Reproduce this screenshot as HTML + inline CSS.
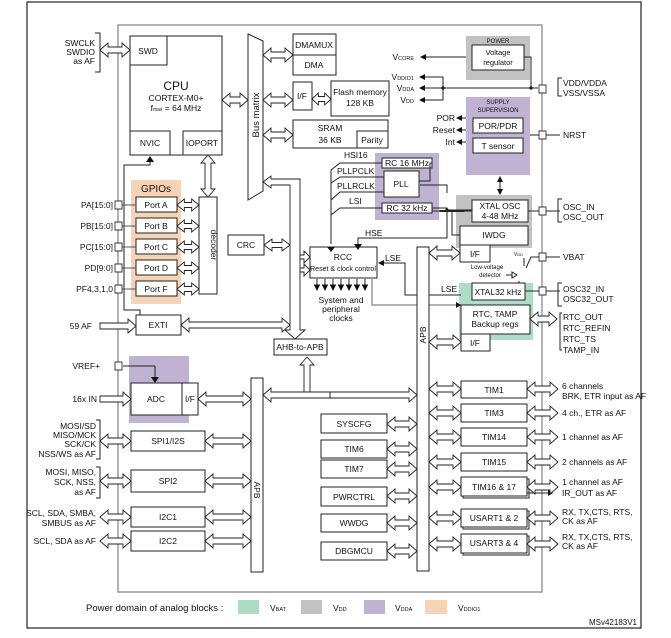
<!DOCTYPE html>
<html><head><meta charset="utf-8"><style>
html,body{margin:0;padding:0;background:#fff}
svg{display:block}
text{font-family:"Liberation Sans",sans-serif;font-size:8.5px;fill:#111}
.b{fill:#fff;stroke:#222;stroke-width:1}
.g{stroke:#999;stroke-width:1.5;fill:none}
.l{stroke:#222;stroke-width:1;fill:none}
.c{text-anchor:middle}
.r{text-anchor:end}
</style></head><body>
<svg id="s" width="671" height="638" viewBox="0 0 671 638" xmlns="http://www.w3.org/2000/svg">
<rect x="27" y="2" width="614" height="626" fill="none" stroke="#222" stroke-width="1.2"/>
<!-- chip frame -->
<rect x="118" y="25" width="424" height="567" class="g"/>
<!-- colored domains -->
<rect x="131" y="180" width="50" height="124" fill="#f7d3b5"/>
<rect x="466" y="36" width="64" height="44" fill="#c2c2c2"/>
<rect x="466" y="97" width="64" height="78" fill="#bfb2d3"/>
<rect x="375" y="153" width="64" height="67" fill="#bfb2d3"/>
<rect x="456" y="195" width="76" height="53" fill="#c2c2c2"/>
<rect x="459" y="283" width="74" height="57" fill="#addcc7"/>
<rect x="129" y="356" width="60" height="67" fill="#bfb2d3"/>
<!-- CPU -->
<rect x="130" y="36" width="92" height="119" class="b"/>
<rect x="130" y="36" width="37" height="29" class="b"/>
<text x="148" y="54" class="c">SWD</text>
<text x="176" y="90" class="c" style="font-size:12px">CPU</text>
<text x="176" y="101" class="c">CORTEX-M0+</text>
<text x="176" y="111" class="c">f<tspan style="font-size:5px">max</tspan> = 64 MHz</text>
<rect x="130" y="131" width="40" height="24" class="b"/><text x="150" y="146" class="c">NVIC</text>
<rect x="183" y="131" width="39" height="24" class="b"/><text x="202" y="146" class="c">IOPORT</text>
<!-- SWCLK -->
<path d="M95 33H100V72H95" class="l"/>
<text x="95" y="46" class="r">SWCLK</text><text x="95" y="55" class="r">SWDIO</text><text x="95" y="64" class="r">as AF</text>
<!-- Bus matrix -->
<path d="M248 34L263 41V191L248 200Z" class="b"/>
<text transform="translate(259,115) rotate(-90)" class="c" style="font-size:9.5px">Bus matrix</text>
<rect x="293" y="34" width="43" height="21" class="b"/><text x="314" y="48" class="c">DMAMUX</text>
<rect x="293" y="55" width="43" height="20" class="b"/><text x="314" y="68" class="c">DMA</text>
<rect x="293" y="82" width="19" height="28" class="b"/><text x="302" y="99" class="c">I/F</text>
<rect x="331" y="81" width="58" height="35" class="b"/><text x="360" y="95" class="c">Flash memory</text><text x="360" y="106" class="c">128 KB</text>
<rect x="293" y="120" width="95" height="28" class="b"/><text x="330" y="131" class="c">SRAM</text><text x="330" y="143" class="c">36 KB</text>
<rect x="357" y="131" width="31" height="17" class="b"/><text x="372" y="143" class="c">Parity</text>
<!-- GPIO -->
<text x="156" y="192" class="c" style="font-size:10px">GPIOs</text>
<g id="ports"></g>
<rect x="136" y="197" width="41" height="15" class="b"/><text x="156" y="208" class="c">Port A</text>
<rect x="136" y="218" width="41" height="15" class="b"/><text x="156" y="229" class="c">Port B</text>
<rect x="136" y="239" width="41" height="15" class="b"/><text x="156" y="250" class="c">Port C</text>
<rect x="136" y="260" width="41" height="15" class="b"/><text x="156" y="271" class="c">Port D</text>
<rect x="136" y="281" width="41" height="15" class="b"/><text x="156" y="292" class="c">Port F</text>
<text x="113" y="208" class="r">PA[15:0]</text><text x="113" y="229" class="r">PB[15:0]</text><text x="113" y="250" class="r">PC[15:0]</text><text x="113" y="271" class="r">PD[9:0]</text><text x="113" y="292" class="r">PF4,3,1,0</text>
<rect x="199" y="197" width="18" height="97" class="b"/>
<text transform="translate(211,245) rotate(90)" class="c">decoder</text>
<rect x="228" y="235" width="36" height="20" class="b"/><text x="246" y="248" class="c">CRC</text>
<!-- NVIC line -->
<path d="M150 160V165H124V310H140V315" class="l"/>
<path d="M146 162L150 156L154 162Z" fill="#111"/>
<!-- EXTI -->
<rect x="136" y="315" width="45" height="20" class="b"/><text x="158" y="328" class="c">EXTI</text>
<text x="92" y="329" class="r">59 AF</text>
<!-- AHB -->
<text transform="translate(296,296) rotate(-90)" class="c">AHB</text>
<rect x="274" y="339" width="53" height="16" class="b"/><text x="300" y="350" class="c">AHB-to-APB</text>
<!-- RCC -->
<rect x="310" y="247" width="67" height="31" class="b"/>
<text x="343" y="260" class="c">RCC</text><text x="343" y="271" class="c" style="font-size:7px">Reset &amp; clock control</text>
<g id="clk"></g>
<text x="341" y="303" class="c">System and</text><text x="341" y="312" class="c">peripheral</text><text x="341" y="321" class="c">clocks</text>
<!-- PLL -->
<rect x="382" y="158" width="50" height="10" class="b"/><text x="407" y="166" class="c">RC 16 MHz</text>
<rect x="384" y="171" width="35" height="26" class="b"/><text x="401" y="187" class="c">PLL</text>
<rect x="382" y="203" width="50" height="10" class="b"/><text x="407" y="211" class="c">RC 32 kHz</text>
<text x="344" y="158">HSI16</text><text x="337" y="174">PLLPCLK</text><text x="337" y="189">PLLRCLK</text><text x="349" y="204">LSI</text>
<path d="M382 163H340L331 170V244M384 177H340L331 183M384 192H340L331 200M382 208H340L331 215" class="l"/>
<path d="M327 247L331 252L335 247Z" fill="#111"/>
<path d="M419 181H430V163H432M432 208H447V238H358V247M447 210H472M447 193V185H420M452 210V235H460" class="l"/>
<circle cx="447" cy="210" r="1.6" fill="#111"/>
<path d="M354 244L358 250L362 244Z" fill="#111"/><text x="365" y="236">HSE</text>
<!-- LSE -->
<path d="M379 263H405V295H461" class="l"/><path d="M384 260L378 263L384 266Z" fill="#111"/>
<text x="385" y="261">LSE</text><text x="441" y="292">LSE</text>
<path d="M372 278V305H461" class="g"/><path d="M456 302L461 305L456 308Z" fill="#111"/>
<!-- right power -->
<rect x="472" y="45" width="52" height="25" class="b"/><text x="498" y="55" class="c" style="font-size:7.5px">Voltage</text><text x="498" y="65" class="c" style="font-size:7.5px">regulator</text>
<text x="498" y="43" class="c" style="font-size:6px">POWER</text>
<text x="414" y="60" class="r">V<tspan style="font-size:5.5px">CORE</tspan></text>
<path d="M425 57H466" class="l"/><path d="M426 54L420 57L426 60Z" fill="#111"/>
<text x="414" y="80" class="r">V<tspan style="font-size:5.5px">DDIO1</tspan></text>
<text x="414" y="91" class="r">V<tspan style="font-size:5.5px">DDA</tspan></text>
<text x="414" y="103" class="r">V<tspan style="font-size:5.5px">DD</tspan></text>
<path d="M424 77H443V100H424M424 88H538M524 57H531V88" class="l"/>
<path d="M425 74L419 77L425 80ZM425 85L419 88L425 91ZM425 97L419 100L425 103Z" fill="#111"/>
<circle cx="443" cy="88" r="1.6" fill="#111"/><circle cx="531" cy="88" r="1.6" fill="#111"/>
<path d="M562 78H558V96H562" class="l"/><text x="563" y="86">VDD/VDDA</text><text x="563" y="96">VSS/VSSA</text>
<text x="498" y="104" class="c" style="font-size:6px">SUPPLY</text><text x="498" y="112" class="c" style="font-size:6px">SUPERVISION</text>
<rect x="473" y="118" width="50" height="15" class="b"/><text x="498" y="129" class="c">POR/PDR</text>
<rect x="473" y="138" width="50" height="15" class="b"/><text x="498" y="149" class="c">T sensor</text>
<text x="455" y="121" class="r">POR</text><text x="455" y="133" class="r">Reset</text><text x="455" y="145" class="r">Int</text>
<path d="M459 118H466M459 130H466M459 142H466" class="l"/>
<path d="M462 115L456 118L462 121ZM462 127L456 130L462 133ZM462 139L456 142L462 145Z" fill="#111"/>
<path d="M530 135H560" class="l"/><text x="563" y="138">NRST</text>
<path d="M500 180V191" class="l"/><path d="M497 182L500 176L503 182ZM497 189L500 195L503 189Z" fill="#111"/>
<rect x="472" y="200" width="56" height="22" class="b"/><text x="500" y="209" class="c">XTAL OSC</text><text x="500" y="219" class="c">4-48 MHz</text>
<rect x="460" y="226" width="68" height="19" class="b"/><text x="494" y="238" class="c">IWDG</text>
<rect x="460" y="245" width="30" height="17" class="b"/><text x="475" y="257" class="c">I/F</text>
<path d="M528 211H560M562 199H558V222H562" class="l"/><text x="563" y="210">OSC_IN</text><text x="563" y="220">OSC_OUT</text>
<path d="M524 258V266M519 281V291M526 268L531 257H560" class="l"/>
<text x="523" y="256" class="r" style="font-size:5px">V<tspan style="font-size:4px">DD</tspan></text>
<text x="487" y="269" class="c" style="font-size:6px">Low-voltage</text><text x="490" y="277" class="c" style="font-size:6px">detector</text>
<path d="M506 275H512M512 272L517 275L512 278Z" class="l"/>
<text x="563" y="260">VBAT</text>
<rect x="472" y="283" width="53" height="17" class="b"/><text x="498" y="295" class="c">XTAL32 kHz</text>
<path d="M525 291H560M562 283H558V306H562" class="l"/><text x="563" y="292">OSC32_IN</text><text x="563" y="302">OSC32_OUT</text>
<rect x="461" y="305" width="69" height="29" class="b"/><text x="495" y="317" class="c">RTC, TAMP</text><text x="495" y="327" class="c">Backup regs</text>
<rect x="461" y="334" width="29" height="17" class="b"/><text x="475" y="346" class="c">I/F</text>
<path d="M562 313H560V350H562" class="l"/>
<text x="563" y="320">RTC_OUT</text><text x="563" y="331">RTC_REFIN</text><text x="563" y="342">RTC_TS</text><text x="563" y="353">TAMP_IN</text>
<!-- APB bars -->
<rect x="417" y="247" width="12" height="324" class="b"/>
<text transform="translate(426,335) rotate(-90)" class="c">APB</text>
<rect x="251" y="378" width="12" height="194" class="b"/>
<text transform="translate(254,490) rotate(90)" class="c">APB</text>
<!-- middle column -->
<rect x="321" y="414" width="66" height="19" class="b"/><text x="354" y="427" class="c">SYSCFG</text>
<rect x="321" y="440" width="66" height="18" class="b"/><text x="354" y="452" class="c">TIM6</text>
<rect x="321" y="460" width="66" height="18" class="b"/><text x="354" y="472" class="c">TIM7</text>
<rect x="321" y="487" width="66" height="19" class="b"/><text x="354" y="500" class="c">PWRCTRL</text>
<rect x="321" y="514" width="66" height="18" class="b"/><text x="354" y="526" class="c">WWDG</text>
<rect x="321" y="542" width="66" height="18" class="b"/><text x="354" y="554" class="c">DBGMCU</text>
<!-- right column -->
<rect x="461" y="381" width="66" height="17" class="b"/><text x="494" y="393" class="c">TIM1</text>
<rect x="461" y="404" width="66" height="18" class="b"/><text x="494" y="416" class="c">TIM3</text>
<rect x="461" y="428" width="66" height="18" class="b"/><text x="494" y="440" class="c">TIM14</text>
<rect x="461" y="453" width="66" height="18" class="b"/><text x="494" y="465" class="c">TIM15</text>
<rect x="463" y="479" width="66" height="19" class="b"/><rect x="461" y="477" width="66" height="19" class="b"/><text x="494" y="490" class="c">TIM16 &amp; 17</text>
<rect x="463" y="511" width="66" height="18" class="b"/><rect x="461" y="509" width="66" height="18" class="b"/><text x="494" y="521" class="c">USART1 &amp; 2</text>
<rect x="463" y="536" width="66" height="19" class="b"/><rect x="461" y="534" width="66" height="19" class="b"/><text x="494" y="546" class="c">USART3 &amp; 4</text>
<text x="562" y="389">6 channels</text><text x="562" y="399">BRK, ETR input as AF</text>
<text x="562" y="416">4 ch., ETR as AF</text>
<text x="562" y="440">1 channel as AF</text>
<text x="562" y="465">2 channels as AF</text>
<text x="562" y="485">1 channel as AF</text>
<path d="M527 493H548" class="l"/><path d="M548 490L553 493L548 496Z" fill="#111"/><text x="562" y="496">IR_OUT as AF</text>
<text x="562" y="515">RX, TX,CTS, RTS,</text><text x="562" y="524">CK as AF</text>
<text x="562" y="540">RX, TX,CTS, RTS,</text><text x="562" y="549">CK as AF</text>
<!-- left periph -->
<path d="M155 366H123M155 366V378" class="l"/><path d="M151 377L155 383L159 377Z" fill="#111"/>
<text x="100" y="369" class="r">VREF+</text>
<rect x="131" y="383" width="51" height="32" class="b"/><text x="156" y="402" class="c">ADC</text>
<rect x="182" y="383" width="16" height="32" class="b"/><text x="190" y="402" class="c">I/F</text>
<text x="97" y="402" class="r">16x IN</text>
<rect x="131" y="431" width="74" height="20" class="b"/><text x="168" y="444" class="c">SPI1/I2S</text>
<rect x="131" y="470" width="74" height="22" class="b"/><text x="168" y="484" class="c">SPI2</text>
<rect x="131" y="507" width="74" height="20" class="b"/><text x="168" y="520" class="c">I2C1</text>
<rect x="131" y="531" width="74" height="20" class="b"/><text x="168" y="544" class="c">I2C2</text>
<path d="M96 420H100V459H96M96 467H100V498H96" class="l"/>
<text x="96" y="429" class="r">MOSI/SD</text><text x="96" y="438" class="r">MISO/MCK</text><text x="96" y="447" class="r">SCK/CK</text><text x="96" y="457" class="r">NSS/WS as AF</text>
<text x="96" y="475" class="r">MOSI, MISO,</text><text x="96" y="485" class="r">SCK, NSS,</text><text x="96" y="495" class="r">as AF</text>
<text x="96" y="516" class="r">SCL, SDA, SMBA,</text><text x="96" y="526" class="r">SMBUS as AF</text>
<text x="96" y="544" class="r">SCL, SDA as AF</text>
<g id="arr"></g>
<!-- legend -->
<text x="86" y="611" style="font-size:9.5px">Power domain of analog blocks :</text>
<rect x="238" y="600" width="21" height="14" fill="#addcc7"/><text x="270" y="611">V<tspan style="font-size:5.5px">BAT</tspan></text>
<rect x="301" y="600" width="21" height="14" fill="#c2c2c2"/><text x="333" y="611">V<tspan style="font-size:5.5px">DD</tspan></text>
<rect x="364" y="600" width="21" height="14" fill="#bfb2d3"/><text x="395" y="611">V<tspan style="font-size:5.5px">DDA</tspan></text>
<rect x="425" y="600" width="22" height="14" fill="#f7d3b5"/><text x="458" y="611">V<tspan style="font-size:5.5px">DDIO1</tspan></text>
<text x="637" y="625" class="r" style="font-size:8px">MSv42183V1</text>
</svg>
<script>
var NS="http://www.w3.org/2000/svg",A=document.getElementById('arr');
function P(d,f,s){var p=document.createElementNS(NS,'path');p.setAttribute('d',d);p.setAttribute('fill',f||'#fff');p.setAttribute('stroke',s||'#222');p.setAttribute('stroke-width','0.9');A.appendChild(p);}
function H(x1,x2,y,o){var h=Math.min(8,(x2-x1)/3),a=o&&o.a||7,s=o&&o.s||3,L=!(o&&o.nl),R=!(o&&o.nr);
var d='M'+(L?x1:x1)+' '+(L?y:y-s);
if(L)d+=' L'+(x1+h)+' '+(y-a)+' L'+(x1+h)+' '+(y-s);
d+=' L'+(R?x2-h:x2)+' '+(y-s);
if(R)d+=' L'+(x2-h)+' '+(y-a)+' L'+x2+' '+y+' L'+(x2-h)+' '+(y+a)+' L'+(x2-h)+' '+(y+s);else d+=' L'+x2+' '+(y+s);
d+=' L'+(L?x1+h:x1)+' '+(y+s);
if(L)d+=' L'+(x1+h)+' '+(y+a)+' Z';else d+=' Z';P(d);}
function V(x,y1,y2,o){var h=Math.min(8,(y2-y1)/3),a=o&&o.a||7,s=o&&o.s||3,T=!(o&&o.nt),B=!(o&&o.nb);
var d='M'+x+' '+(T?y1:y1);
if(T)d='M'+x+' '+y1+' L'+(x+a)+' '+(y1+h)+' L'+(x+s)+' '+(y1+h);else d='M'+(x+s)+' '+y1;
d+=' L'+(x+s)+' '+(B?y2-h:y2);
if(B)d+=' L'+(x+a)+' '+(y2-h)+' L'+x+' '+y2+' L'+(x-a)+' '+(y2-h)+' L'+(x-s)+' '+(y2-h);else d+=' L'+(x-s)+' '+y2;
d+=' L'+(x-s)+' '+(T?y1+h:y1);
if(T)d+=' L'+(x-a)+' '+(y1+h)+' Z';else d+=' Z';P(d);}
H(100,130,50);H(222,248,100);H(263,293,55);H(263,293,100);H(312,331,99,{a:6,s:2.5});H(263,293,135);
[205,226,247,268,289].forEach(function(y){H(177,199,y,{a:6,s:2.5});});
V(208,155,197);H(264,290,245,{a:6,s:2.5});
H(100,136,326,{nl:1});H(181,290,325);
H(100,131,399,{nl:1});H(198,251,399);
[441,481,517,541].forEach(function(y){H(100,131,y);H(205,251,y);});
[424,449,469,496,523,551].forEach(function(y){H(387,417,y);});
[389,413,437,462,487,518,544].forEach(function(y){H(429,461,y);H(527,558,y);});
H(429,460,253);H(429,461,342);H(530,557,319);H(432,472,211,{a:0.01,s:0.5});
H(330,417,395,{nl:1});H(263,330,395,{nr:1});V(307,357,392,{nb:1});
// AHB vertical bus
P('M263 182 L271 176 L271 179 L300 179 L300 330 L305 330 L295 339 L285 330 L290 330 L290 185 L271 185 L271 188 Z');
P('M300 255 L304 255 L304 251 L310 257 L304 263 L304 259 L300 259 Z');
P('M300 268 L304 268 L304 264 L310 270 L304 276 L304 272 L300 272 Z');
// pins
var sq=[[118,205],[118,226],[118,247],[118,268],[118,289],[118,366],[542,89],[542,135],[542,211],[542,257],[542,291]];
sq.forEach(function(q){P('M'+(q[0]-3)+' '+(q[1]-4)+'h7v8h-7Z','#fff','#333');});
[205,226,247,268,289].forEach(function(y){P('M122 '+y+'H136','none','#444');});
// clock arrows
for(var i=0;i<7;i++){var x=317+i*8;P('M'+x+' 279V286','none','#111');P('M'+(x-2.5)+' 285L'+x+' 290L'+(x+2.5)+' 285Z','#111','#111');}
</script>
</body></html>
